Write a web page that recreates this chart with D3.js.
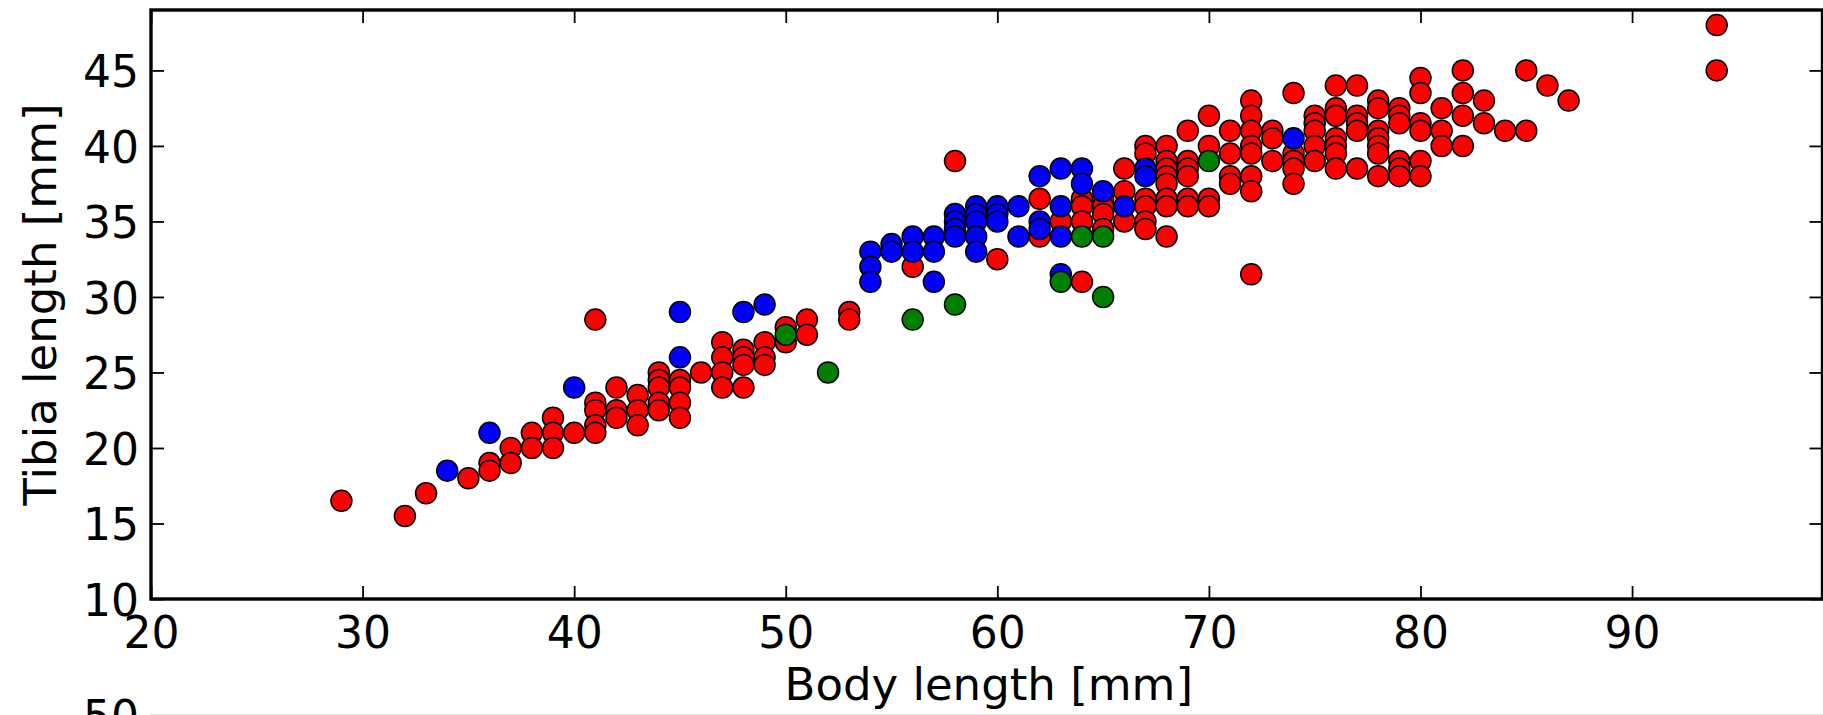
<!DOCTYPE html>
<html>
<head>
<meta charset="utf-8" />
<title></title>
<style>
html, body {
    margin: 0px;
    padding: 0px;
    background: #fff;
}
svg {
    display: block;
    font-family: "DejaVu Sans", sans-serif;
}
.tick line {
    stroke: #000;
    stroke-width: 1.8;
}
</style>
</head>
<body>
<div id="chart"></div>

<script src="https://cdnjs.cloudflare.com/ajax/libs/d3/7.8.5/d3.min.js"></script>
<script>
!(function(){
    "use strict"

    // tick values
    var xTicks = [20, 30, 40, 50, 60, 70, 80, 90];
    var yTicks = [10, 15, 20, 25, 30, 35, 40, 45];

    // [body length, tibia length] per group
    var red = [
        [29,16.5],[32,15.5],[33,17],[35,18],[36,19],[36,18.5],[37,20],[37,19],
        [38,21],[38,20],[39,22],[39,21],[39,20],[40,21],[41,28.5],[41,23],
        [41,22.5],[41,21.5],[41,21],[42,24],[42,22.5],[42,22],[43,23.5],[43,22.5],
        [43,21.5],[44,25],[44,24.5],[44,24],[44,23],[44,22.5],[45,24.5],[45,24],
        [45,23],[45,22],[46,25],[47,27],[47,26],[47,25],[47,24],[48,26.5],
        [48,26],[48,25.5],[48,24],[49,27],[49,26],[49,25.5],[50,28],[50,27],
        [51,28.5],[51,27.5],[53,29],[53,28.5],[56,32],[58,39],[60,32.5],[62,36.5],
        [62,34],[63,35],[64,36.5],[64,36],[64,35],[64,31],[65,36.5],[65,36],
        [65,35.5],[65,34.5],[66,38.5],[66,37],[66,35],[67,40],[67,39.5],[67,36.5],
        [67,36],[67,35],[67,34.5],[68,40],[68,39],[68,38.5],[68,38],[68,37.5],
        [68,36.5],[68,36],[68,34],[69,41],[69,39],[69,38.5],[69,38],[69,36.5],
        [69,36],[70,42],[70,40],[70,36.5],[70,36],[71,41],[71,39.5],[71,38],
        [71,37.5],[72,43],[72,42],[72,41],[72,40],[72,39.5],[72,38],[72,37],
        [72,31.5],[73,41],[73,40.5],[73,39],[74,43.5],[74,39.5],[74,39],[74,38.5],
        [74,37.5],[75,42],[75,41.5],[75,41],[75,40],[75,39],[76,44],[76,42.5],
        [76,42],[76,40.5],[76,40],[76,39.5],[76,38.5],[77,44],[77,42],[77,41.5],
        [77,41],[77,38.5],[78,43],[78,42.5],[78,41],[78,40.5],[78,40],[78,39.5],
        [78,38],[79,42.5],[79,42],[79,41.5],[79,39],[79,38.5],[79,38],[80,44.5],
        [80,43.5],[80,41.5],[80,41],[80,39],[80,38],[81,42.5],[81,41],[81,40],
        [82,45],[82,43.5],[82,42],[82,40],[83,43],[83,41.5],[84,41],[85,45],
        [85,41],[86,44],[87,43],[94,48],[94,45]
    ];
    var blue = [
        [34,18.5],[36,21],[40,24],[45,29],[45,26],[48,29],[49,29.5],[54,33],
        [54,32],[54,31],[55,33.5],[55,33],[56,34],[56,33],[57,34],[57,33],
        [57,31],[58,35.5],[58,35],[58,34.5],[58,34],[59,36],[59,35.5],[59,35],
        [59,34],[59,33],[60,36],[60,35.5],[60,35],[61,36],[61,34],[62,38],
        [62,35],[62,34.5],[63,38.5],[63,36],[63,34],[63,31.5],[64,38.5],[64,37.5],
        [65,37],[66,36],[67,38.5],[67,38],[74,40.5]
    ];
    var green = [
        [50,27.5],[52,25],[56,28.5],[58,29.5],[63,31],[64,34],[65,34],[65,30],[70,39]
    ];

    var W = 1823, H = 715;
    var left = 151, right = 1822.5, top = 10, bottom = 599;

    var x = d3.scaleLinear().domain([20, 99]).range([left, right]);
    var y = d3.scaleLinear().domain([10, 49]).range([bottom, top]);

    var svg = d3.select("#chart").append("svg")
        .attr("width", W)
        .attr("height", H)

    var groups = [
        {data: red, color: "#ff0000"},
        {data: blue, color: "#0000ff"},
        {data: green, color: "#008000"}
    ];

    groups.forEach(function(s) {
        svg.append("g").selectAll("circle")
            .data(s.data)
            .enter()
            .append("circle")
            .attr("cx", function(d){ return x(d[0]) })
            .attr("cy", function(d){ return y(d[1]) })
            .attr("r", 10.5)
            .attr("fill", s.color)
            .attr("stroke", "#000")
            .attr("stroke-width", 1.5)
    });

    function style(g) {
        g.attr("font-size", 44).attr("font-family", "DejaVu Sans, sans-serif")
        g.select(".domain").remove()
        g.selectAll(".tick text").attr("fill", "#000")
    }

    svg.append("g")
        .attr("transform", "translate(0," + bottom + ")")
        .call(d3.axisBottom(x).tickValues(xTicks).tickSizeInner(-13).tickSizeOuter(0)
            .tickPadding(18).tickFormat(d3.format("d")))
        .call(style)

    svg.append("g")
        .attr("transform", "translate(" + left + ",0)")
        .call(d3.axisLeft(y).tickValues(yTicks).tickSizeInner(-13).tickSizeOuter(0)
            .tickPadding(12).tickFormat(d3.format("d")))
        .call(style)
        .selectAll(".tick text").attr("dy", "0.37em")

    svg.append("g")
        .attr("transform", "translate(0," + top + ")")
        .call(d3.axisTop(x).tickValues(xTicks).tickSizeInner(-13).tickSizeOuter(0).tickFormat(""))
        .call(style)

    svg.append("g")
        .attr("transform", "translate(" + right + ",0)")
        .call(d3.axisRight(y).tickValues(yTicks).tickSizeInner(-13).tickSizeOuter(0).tickFormat(""))
        .call(style)

    // spines
    svg.append("rect")
        .attr("x", left)
        .attr("y", top)
        .attr("width", right - left)
        .attr("height", bottom - top)
        .attr("fill", "none")
        .attr("stroke", "#000")
        .attr("stroke-width", 3.4)

    svg.append("text")
        .attr("x", (left + right) / 2 + 2)
        .attr("y", 700)
        .attr("text-anchor", "middle")
        .attr("font-size", 45)
        .text("Body length [mm]")

    svg.append("text")
        .attr("transform", "translate(56," + ((top + bottom) / 2) + ") rotate(-90)")
        .attr("text-anchor", "middle")
        .attr("font-size", 45)
        .text("Tibia length [mm]")

    // top edge of the next panel, cut off by the picture
    svg.append("text")
        .attr("x", 139)
        .attr("y", 716)
        .attr("dy", "0.37em")
        .attr("text-anchor", "end")
        .attr("font-size", 44)
        .text("50")

    svg.append("line")
        .attr("x1", left - 1)
        .attr("x2", W)
        .attr("y1", 714.5)
        .attr("y2", 714.5)
        .attr("stroke", "#000")
        .attr("stroke-opacity", 0.12)
        .attr("stroke-width", 1)

}());
</script>
</body>
</html>
